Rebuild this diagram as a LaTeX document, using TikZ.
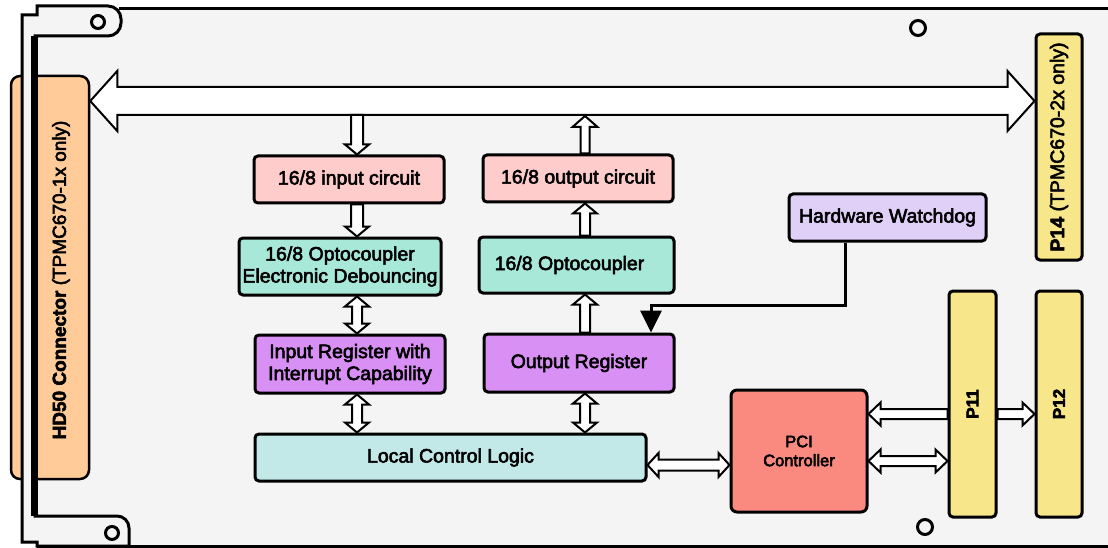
\documentclass[tikz,border=0pt]{standalone}
\usepackage{fontspec}
\usepackage{graphicx}
\setmainfont{Liberation Sans}
\usetikzlibrary{calc,arrows.meta}
\definecolor{boardbg}{HTML}{F4F4F4}
\definecolor{pinkbox}{HTML}{FFCCCC}
\definecolor{mintbox}{HTML}{A8E8D8}
\definecolor{violetbox}{HTML}{D990F5}
\definecolor{logicbox}{HTML}{C2E8E8}
\definecolor{lavbox}{HTML}{E0D0F8}
\definecolor{salmonbox}{HTML}{FA8A80}
\definecolor{yellowbox}{HTML}{F8E68A}
\definecolor{orangebox}{HTML}{FFCC99}
\newcommand{\heavytext}{\special{pdf:code 2 Tr 0.55 w}}
\newcommand{\boxfont}{\fontsize{19.5}{22}\selectfont\heavytext}
\newcommand{\twoway}[5]{%
  \coordinate (hA) at (#1); \coordinate (hB) at (#2);
  \draw[hollow] (hA) -- ($(hA)!#5!(hB)!#4!90:(hB)$) -- ($(hA)!#5!(hB)!#3!90:(hB)$)
    -- ($(hB)!#5!(hA)!#3!-90:(hA)$) -- ($(hB)!#5!(hA)!#4!-90:(hA)$) -- (hB)
    -- ($(hB)!#5!(hA)!#4!90:(hA)$) -- ($(hB)!#5!(hA)!#3!90:(hA)$)
    -- ($(hA)!#5!(hB)!#3!-90:(hB)$) -- ($(hA)!#5!(hB)!#4!-90:(hB)$) -- cycle;}
\newcommand{\oneway}[5]{%
  \coordinate (hA) at (#1); \coordinate (hB) at (#2);
  \draw[hollow] ($(hA)!#3!90:(hB)$) -- ($(hB)!#5!(hA)!#3!-90:(hA)$)
    -- ($(hB)!#5!(hA)!#4!-90:(hA)$) -- (hB) -- ($(hB)!#5!(hA)!#4!90:(hA)$)
    -- ($(hB)!#5!(hA)!#3!90:(hA)$) -- ($(hA)!#3!-90:(hB)$) -- cycle;}
\begin{document}
\begin{tikzpicture}[x=1pt,y=-1pt,
  box/.style={draw, line width=3pt, rounded corners=4pt, inner sep=0pt, align=center, font=\boxfont},
  hollow/.style={draw, line width=2pt, fill=white, line join=miter},
  panel/.style={draw, line width=3pt, fill=boardbg, line join=miter},
  hole/.style={draw, line width=3pt, fill=boardbg}]
\useasboundingbox (0,0) rectangle (1108,548);
% board
\fill[boardbg] (35,8.5) rectangle (1112,546.5);
% HD50 connector (behind front panel)
\node[draw, line width=2.5pt, rounded corners=9pt, fill=orangebox, minimum width=78pt, minimum height=403pt] (hd50) at (50,277.5) {};
% front panel
\draw[panel] (22,15) -- (37,15) -- (37,6) [rounded corners=13pt] -- (121,6) -- (121,36) [sharp corners] -- (35,36)
  -- (35,516) [rounded corners=12pt] -- (129,516) [sharp corners] -- (129,546) -- (37,546) -- (37,542) -- (22,542) -- cycle;
\draw[line width=7pt] (34.5,36) -- (34.5,516);
\draw[line width=3pt] (119,8.5) -- (1112,8.5);
\draw[line width=3pt] (37,546.5) -- (1112,546.5);
% holes
\draw[hole] (98,22) circle[radius=6.5pt];
\draw[hole] (112,533) circle[radius=6.5pt];
\draw[hole] (918,28) circle[radius=7.5pt];
\draw[hole] (925,527) circle[radius=7.5pt];
\node[font=\fontsize{19}{22}\selectfont\heavytext, inner sep=0pt] (hd50txt) at (61,280) {\rotatebox{90}{\textbf{HD50 Connector} (TPMC670-1x only)}};
% blocks
\node[box, fill=pinkbox, minimum width=190pt, minimum height=47pt] (inc) at (349,179.5) {16/8 input circuit};
\node[box, fill=pinkbox, minimum width=190pt, minimum height=47pt] (outc) at (578,178.5) {16/8 output circuit};
\node[box, fill=mintbox, minimum width=202pt, minimum height=57pt] (opto1) at (340,266.5) {16/8 Optocoupler\\Electronic Debouncing};
\node[box, fill=mintbox, minimum width=195pt, minimum height=56pt] (opto2) at (576.5,265) {16/8 Optocoupler\hspace*{14pt}};
\node[box, fill=violetbox, minimum width=190pt, minimum height=58pt] (inreg) at (350,364) {Input Register with\\Interrupt Capability};
\node[box, fill=violetbox, minimum width=190pt, minimum height=58pt] (outreg) at (579,363) {Output Register};
\node[box, fill=logicbox, minimum width=391pt, minimum height=47pt] (lcl) at (450.5,457.5) {Local Control Logic};
\node[box, fill=salmonbox, rounded corners=6pt, minimum width=136pt, minimum height=122pt, font=\fontsize{16.5}{19}\selectfont\heavytext] (pci) at (799,451) {PCI\\Controller};
\node[box, fill=lavbox, minimum width=197pt, minimum height=47pt] (wd) at (887.5,217.5) {Hardware Watchdog};
\node[box, fill=yellowbox, minimum width=47pt, minimum height=226pt, font=\fontsize{17}{20}\selectfont\heavytext] (p11) at (972.5,404) {\rotatebox{90}{\textbf{P11}}};
\node[box, fill=yellowbox, minimum width=46pt, minimum height=226pt, font=\fontsize{17}{20}\selectfont\heavytext] (p12) at (1059,404) {\rotatebox{90}{\textbf{P12}}};
\node[box, fill=yellowbox, minimum width=46pt, minimum height=226pt] (p14) at (1059,147) {\rotatebox{90}{\textbf{P14} (TPMC670-2x only)}};
% helper coordinates
\coordinate (busy) at (0,101);
\coordinate (colin) at (357,0);
\coordinate (colout) at (585,0);
\coordinate (busin) at (357,115);
\coordinate (busout) at (585,116);
\coordinate (rowa) at (0,465);
\coordinate (rowb) at (0,414);
\coordinate (rowc) at (0,461);
\coordinate (wdx) at (845,0);
\coordinate (wdbend) at (651,305);
% bus
\twoway{hd50.east |- busy}{p14.west |- busy}{14pt}{30pt}{27pt}
% connectors
\oneway{busin}{inc.north -| colin}{6pt}{12pt}{10pt}
\oneway{inc.south -| colin}{opto1.north -| colin}{6pt}{12pt}{10pt}
\twoway{opto1.south -| colin}{inreg.north -| colin}{5pt}{12pt}{10pt}
\twoway{inreg.south -| colin}{lcl.north -| colin}{5pt}{12pt}{10pt}
\oneway{outc.north -| colout}{busout}{4.5pt}{12.5pt}{11pt}
\oneway{opto2.north -| colout}{outc.south -| colout}{5pt}{12pt}{10pt}
\oneway{outreg.north -| colout}{opto2.south -| colout}{5pt}{12pt}{10pt}
\twoway{outreg.south -| colout}{lcl.north -| colout}{5pt}{12pt}{10pt}
\twoway{lcl.east |- rowa}{pci.west |- rowa}{5.5pt}{12pt}{11pt}
\oneway{p11.west |- rowb}{pci.east |- rowb}{5pt}{11.5pt}{12pt}
\twoway{pci.east |- rowc}{p11.west |- rowc}{5pt}{11.5pt}{12pt}
\oneway{p11.east |- rowb}{p12.west |- rowb}{5pt}{11.5pt}{12pt}
\draw[line width=3pt, -{Triangle[length=22pt,width=21pt]}] (wd.south -| wdx) |- (wdbend) -- (outreg.north -| wdbend);
\end{tikzpicture}
\end{document}
